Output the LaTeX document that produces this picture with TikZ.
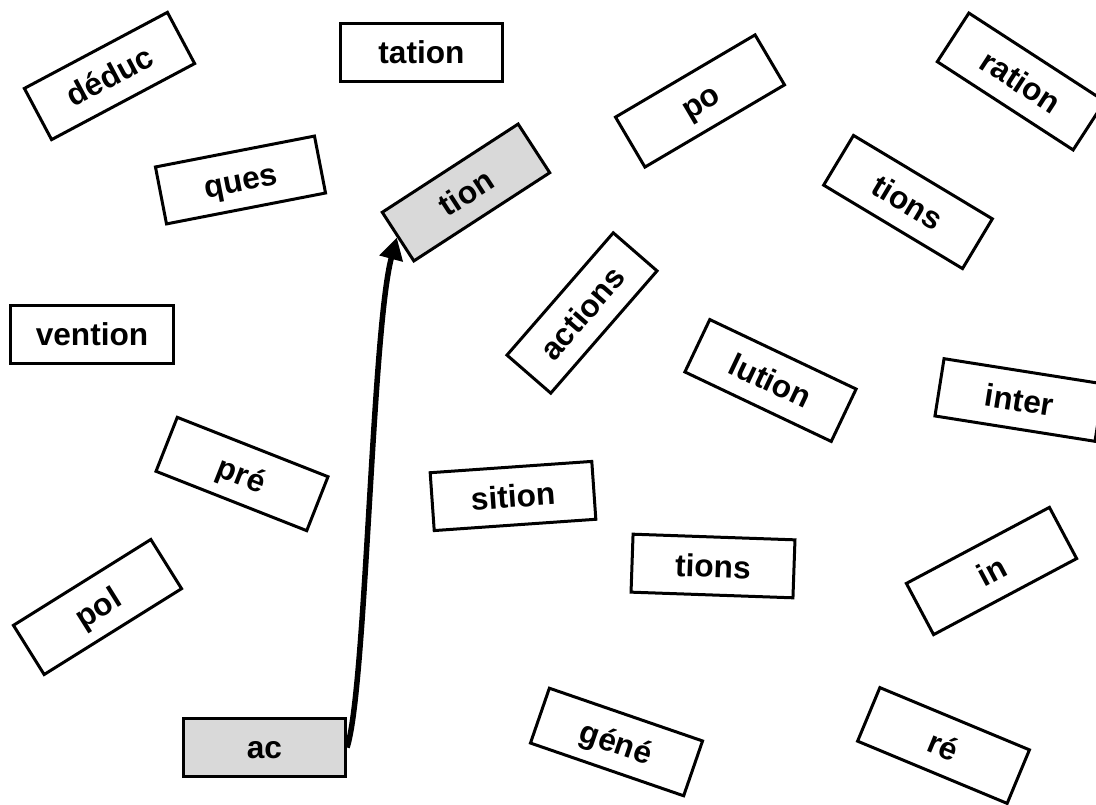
\documentclass[tikz,border=0pt]{standalone}
\usepackage{fontspec}
\setmainfont{Liberation Sans}
\usepackage{tikz}
\usetikzlibrary{arrows.meta}

\definecolor{boxgray}{RGB}{217,217,217}
\tikzset{
  word/.style={draw, line width=0.06cm, minimum width=3.24cm, minimum height=1.16cm,
    inner sep=0pt, text height=13pt, text depth=0pt,
    font=\bfseries\fontsize{18}{22}\selectfont},
  picked/.style={word, fill=boxgray}
}

\begin{document}
\begin{tikzpicture}
        \useasboundingbox (0,0) rectangle (21.92,16.08);
        % top row
        \node[word, rotate=28] (deduc) at (2.19,14.56) {déduc};
        \node[word] (tation) at (8.43,15.03) {tation};
        \node[word, rotate=30.5] (po) at (14.00,14.06) {po};
        \node[word, rotate=-33] (ration) at (20.42,14.45) {ration};
        \node[word, rotate=11] (ques) at (4.81,12.48) {ques};
        \node[picked, rotate=33] (tion) at (9.32,12.23) {tion};
        \node[word, rotate=-31] (tionsa) at (18.16,12.04) {tions};
        % middle
        \node[word] (vention) at (1.84,9.39) {vention};
        \node[word, rotate=49] (actions) at (11.64,9.82) {actions};
        \node[word, rotate=-25.4] (lution) at (15.41,8.47) {lution};
        \node[word, rotate=-9] (inter) at (20.39,8.08) {inter};
        \node[word, rotate=-21.5] (pre) at (4.84,6.60) {pré};
        \node[word, rotate=4] (sition) at (10.26,6.16) {sition};
        \node[word, rotate=-2] (tionsb) at (14.26,4.76) {tions};
        \node[word, rotate=28] (inpre) at (19.83,4.66) {in};
        % bottom
        \node[word, rotate=32] (pol) at (1.95,3.94) {pol};
        \node[picked] (ac) at (5.29,1.13) {ac};
        \node[word, rotate=-19] (gene) at (12.33,1.24) {géné};
        \node[word, rotate=-22.6] (re) at (18.87,1.17) {ré};
        % ac + tion
        \draw[line width=0.11cm, -{Triangle[length=0.44cm,width=0.46cm]}]
            (ac.east) .. controls (7.32,2.28) and (7.44,9.48) .. (tion.west);
\end{tikzpicture}
\end{document}
